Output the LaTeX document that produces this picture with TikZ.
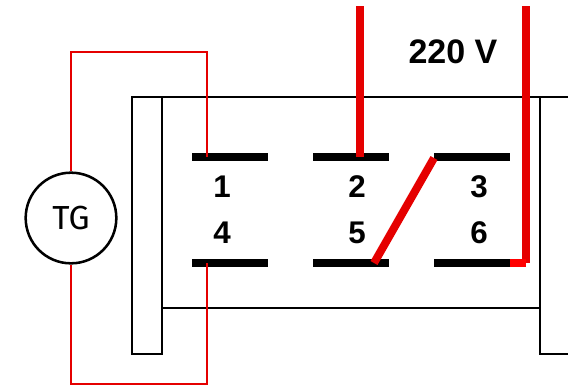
\documentclass[tikz,border=0pt]{standalone}
\usepackage{fontspec}
\setmainfont{Liberation Sans}
\newfontfamily\tgfont{Fira Sans}
\tikzset{
  frameline/.style={draw=black,line width=2pt},
  contactbar/.style={draw=black,line width=6pt},
  thinwire/.style={draw=red!90!black,line width=1.8pt},
  thickwire/.style={draw=red!90!black,line width=6pt},
  pinlabel/.style={font=\bfseries\fontsize{23.5}{23.5}\selectfont,inner sep=0pt},
  voltlabel/.style={font=\bfseries\fontsize{25.5}{25.5}\selectfont,inner sep=0pt},
}
\begin{document}
\begin{tikzpicture}[x=0.75pt,y=-0.75pt]
\useasboundingbox (0,0) rectangle (568,387);
% frame
\coordinate (tl) at (132,97);
\coordinate (tr) at (568,97);
\coordinate (sb) at (162,354);
\coordinate (st) at (162,97);
\coordinate (il) at (162,308);
\coordinate (ir) at (540,308);
\coordinate (rt) at (540,97);
\coordinate (rb) at (540,354);
\coordinate (re) at (568,354);
\path[frameline] (tl) -- (tr);
\path[frameline] (tl) rectangle (sb);
\path[frameline] (il) -- (ir);
\path[frameline] (rt) -- (rb) -- (re);
% contacts
\coordinate (1a) at (192,157);
\coordinate (1b) at (268,157);
\coordinate (2a) at (313,157);
\coordinate (2b) at (389,157);
\coordinate (3a) at (434,157);
\coordinate (3b) at (510,157);
\coordinate (4a) at (192,263);
\coordinate (4b) at (268,263);
\coordinate (5a) at (313,263);
\coordinate (5b) at (389,263);
\coordinate (6a) at (434,263);
\coordinate (6b) at (510,263);
\path[contactbar] (1a) -- (1b);
\path[contactbar] (2a) -- (2b);
\path[contactbar] (3a) -- (3b);
\path[contactbar] (4a) -- (4b);
\path[contactbar] (5a) -- (5b);
\path[contactbar] (6a) -- (6b);
\node[pinlabel] (n1) at (222,187) {1};
\node[pinlabel] (n2) at (357,187) {2};
\node[pinlabel] (n3) at (479,187) {3};
\node[pinlabel] (n4) at (222,233) {4};
\node[pinlabel] (n5) at (357,233) {5};
\node[pinlabel] (n6) at (479,233) {6};
\node[voltlabel] (volt) at (453,52) {220 V};
% generator
\node[draw,circle,line width=1.9pt,minimum size=68pt,inner sep=0pt,font=\tgfont\fontsize{25}{25}\selectfont] (tg) at (71,218) {TG};
\coordinate (ta) at (71,52);
\coordinate (tb) at (207,52);
\coordinate (tc) at (207,157);
\coordinate (ba) at (71,384);
\coordinate (bb) at (207,384);
\coordinate (bc) at (207,263);
\path[thinwire] (tg.north) -- (ta) -- (tb) -- (tc);
\path[thinwire] (tg.south) -- (ba) -- (bb) -- (bc);
% 220 V side
\coordinate (la) at (360,6);
\coordinate (lb) at (360,157);
\coordinate (ra) at (526,6);
\coordinate (rc) at (526,263);
\coordinate (sa) at (434,158);
\coordinate (sc) at (374,263);
\path[thickwire] (la) -- (lb);
\path[thickwire] (ra) -- (rc);
\path[thickwire] (sa) -- (sc);
\path[draw=red,line width=6pt] (6b) -- (rc);
\end{tikzpicture}
\end{document}
